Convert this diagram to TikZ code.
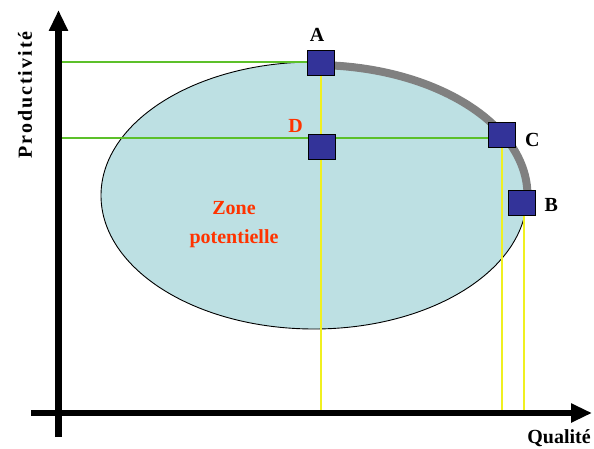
\documentclass[tikz,border=0pt]{standalone}
\usepackage{fontspec}
\setmainfont{Liberation Serif}
\usepackage{xcolor}
\usepackage{tikz}
\usetikzlibrary{positioning,arrows.meta}
\definecolor{zpblue}{HTML}{BDE0E3}
\definecolor{zpnavy}{HTML}{333399}
\definecolor{zpred}{HTML}{FF3300}
\definecolor{zpgreen}{HTML}{5CC02A}
\definecolor{zpyellow}{HTML}{F0F020}
\definecolor{zpgray}{HTML}{808080}

\begin{document}
\begin{tikzpicture}[
  x=1pt, y=-1pt,
  font=\fontsize{20}{29}\selectfont\bfseries,
  axis/.style={line width=6.5pt, -{Triangle[length=21pt,width=18pt]}},
  sq/.style={draw=black, fill=zpnavy, line width=0.8pt, minimum width=27pt,
    minimum height=25pt, inner sep=0pt},
  lbl/.style={inner sep=0pt},
  hline/.style={draw=zpgreen, line width=1.3pt},
  vline/.style={draw=zpyellow, line width=1.3pt},
  ]
  \useasboundingbox (0,0) rectangle (594,449);

  % zone potentielle
  \coordinate (zc) at (314,195.5);
  \fill[zpblue] (zc) ellipse [x radius=213, y radius=133.5];
  \draw[black, line width=0.9pt] (zc) ellipse [x radius=213, y radius=133.5];
  \draw[zpgray, line width=8pt]
    ([shift={(-87:213.5 and 130.5)}]zc) arc[start angle=-87, end angle=1, x radius=213.5, y radius=130.5];

  % axes
  \coordinate (xs) at (31,413);
  \coordinate (xe) at (592,413);
  \coordinate (ys) at (58.5,437);
  \coordinate (ye) at (58.5,10);

  % points
  \node[sq] (A) at (321,63) {};
  \node[sq] (C) at (502,135) {};
  \node[sq] (B) at (522,203) {};

  \coordinate (gA) at (58.5,62);
  \coordinate (gC) at (58.5,138);
  \draw[hline] (gA) -- (gA -| A.west);
  \draw[hline] (gC) -- (gC -| C.west);
  \draw[vline] (A.south) -- (A |- xs);
  \draw[vline] (C.south) -- (C |- xs);
  \draw[vline] ([xshift=2pt]B.south) -- ([xshift=2pt]B |- xs);
  \node[sq] (D) at (322,147) {};

  \draw[axis] (ys) -- (ye);
  \draw[axis] (xs) -- (xe);

  % labels
  \node[lbl, above=8.5pt of A, xshift=-4pt] (la) {A};
  \node[lbl, text=zpred, anchor=south east] (ld) at ([xshift=-5pt,yshift=1pt]D.north west) {D};
  \node[lbl, right=9pt of C, yshift=-5pt] (lc) {C};
  \node[lbl, right=8.5pt of B, yshift=-1.5pt] (lb) {B};
  \node[lbl, text=zpred, align=center] (zone) at (234,225) {Zone\\potentielle};
  \node[lbl, rotate=90] (ylab) at (25,95) {\addfontfeature{LetterSpace=10}Productivité};
  \node[lbl] (xlab) at (559,438) {Qualité};
\end{tikzpicture}
\end{document}
